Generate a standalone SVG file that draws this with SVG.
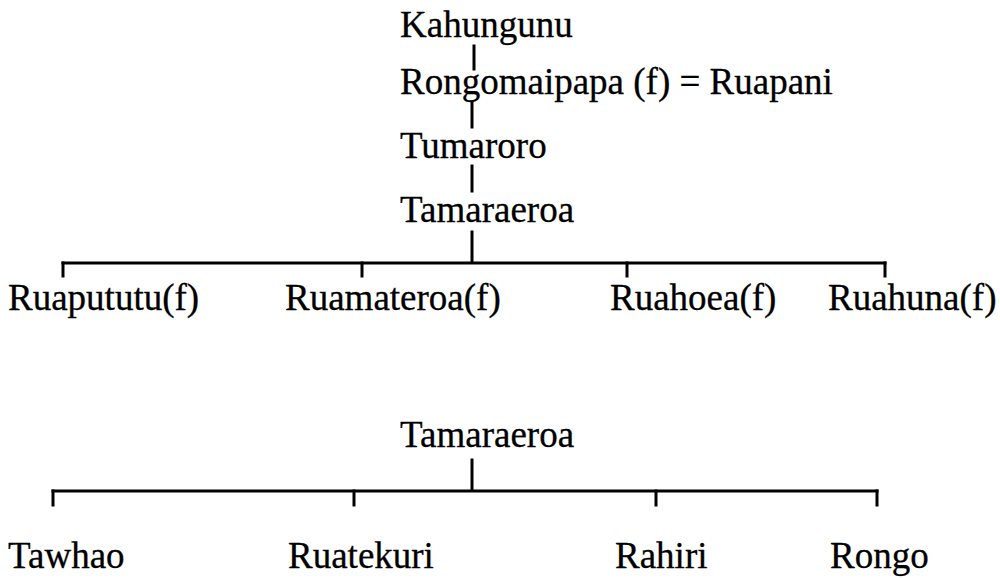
<svg xmlns="http://www.w3.org/2000/svg" width="1000" height="578" viewBox="0 0 1000 578">
  <style>
    text { font-family: "Liberation Serif", "Times New Roman", serif; font-size: 37px; fill: #000; stroke: #000; stroke-width: 0.3; }
    .ln { stroke: #000; stroke-width: 3; fill: none; stroke-linecap: square; }
  </style>
  <rect width="1000" height="578" fill="#fff"/>
  <!-- descent lines and sibling bars -->
  <g id="connectors">
    <line class="ln" x1="474" y1="46" x2="474" y2="69"/>
    <line class="ln" x1="472" y1="102" x2="472" y2="127"/>
    <line class="ln" x1="472" y1="166" x2="472" y2="191"/>
    <line class="ln" x1="472" y1="232" x2="472" y2="262"/>
    <line class="ln" x1="63" y1="263" x2="885" y2="263"/>
    <line class="ln" x1="63" y1="263" x2="63" y2="276"/>
    <line class="ln" x1="362" y1="263" x2="362" y2="276"/>
    <line class="ln" x1="627" y1="263" x2="627" y2="276"/>
    <line class="ln" x1="885" y1="263" x2="885" y2="276"/>
    <line class="ln" x1="472" y1="460" x2="472" y2="490"/>
    <line class="ln" x1="53" y1="491" x2="877" y2="491"/>
    <line class="ln" x1="53" y1="491" x2="53" y2="505"/>
    <line class="ln" x1="354" y1="491" x2="354" y2="505"/>
    <line class="ln" x1="656" y1="491" x2="656" y2="505"/>
    <line class="ln" x1="877" y1="491" x2="877" y2="505"/>
  </g>
  <g id="kahungunu"><text x="400" y="37">Kahungunu</text></g>
  <g id="rongomaipapa"><text x="400" y="94">Rongomaipapa (f) = Ruapani</text></g>
  <g id="tumaroro"><text x="400" y="158">Tumaroro</text></g>
  <g id="tamaraeroa"><text x="400" y="222">Tamaraeroa</text></g>
  <g id="ruapututu"><text x="8" y="310">Ruapututu(f)</text></g>
  <g id="ruamateroa"><text x="285" y="310">Ruamateroa(f)</text></g>
  <g id="ruahoea"><text x="610" y="310">Ruahoea(f)</text></g>
  <g id="ruahuna"><text x="828" y="310">Ruahuna(f)</text></g>
  <g id="tamaraeroa-2"><text x="400" y="447">Tamaraeroa</text></g>
  <g id="tawhao"><text x="8" y="568">Tawhao</text></g>
  <g id="ruatekuri"><text x="288" y="568">Ruatekuri</text></g>
  <g id="rahiri"><text x="615" y="568">Rahiri</text></g>
  <g id="rongo"><text x="830" y="568">Rongo</text></g>
</svg>
